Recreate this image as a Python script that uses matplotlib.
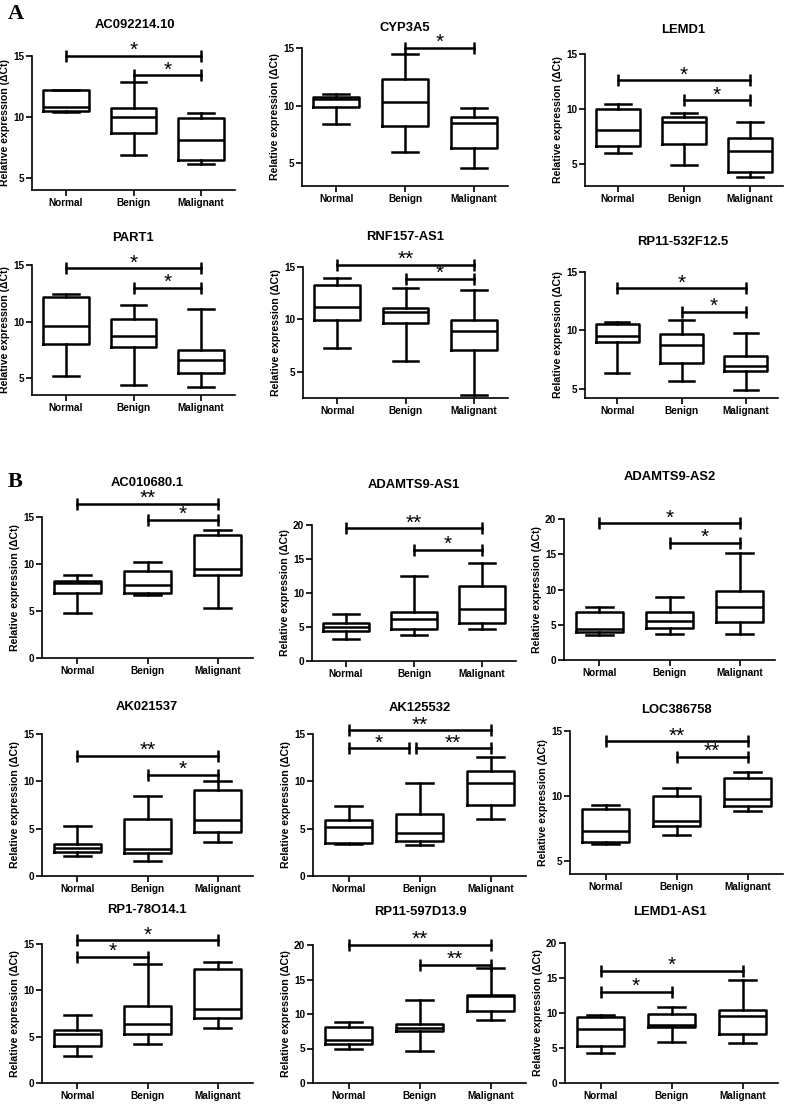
import matplotlib
matplotlib.use("Agg")
import matplotlib.pyplot as plt

plt.rcParams['font.family'] = ['Liberation Sans', 'DejaVu Sans']
plt.rcParams['font.weight'] = 'bold'
plt.rcParams['axes.linewidth'] = 1.2

groups = ["Normal", "Benign", "Malignant"]

# box stats per group: whisker low, q1, median, q3, whisker high
ac092214_10 = [[10.4, 10.5, 10.8, 12.2, 12.2], [6.85, 8.7, 10.0, 10.7, 12.9], [6.1, 6.45, 8.1, 9.9, 10.3]]
cyp3a5 = [[8.4, 9.83, 10.58, 10.78, 10.99], [6.0, 8.2, 10.3, 12.29, 14.46], [4.6, 6.29, 8.46, 8.96, 9.77]]
lemd1 = [[6.03, 6.64, 8.1, 9.97, 10.5], [4.88, 6.8, 8.85, 9.24, 9.6], [3.8, 4.3, 6.18, 7.33, 8.8]]
part1 = [[5.15, 8.03, 9.56, 12.15, 12.47], [4.35, 7.74, 8.68, 10.18, 11.44], [4.24, 5.44, 6.56, 7.5, 11.12]]
rnf157_as1 = [[7.26, 9.94, 11.2, 13.25, 13.99], [6.0, 9.62, 10.66, 11.1, 13.03], [2.78, 7.1, 8.9, 9.94, 12.84]]
rp11_532f12_5 = [[6.32, 9.0, 9.52, 10.57, 10.71], [5.67, 7.24, 8.78, 9.69, 10.91], [4.86, 6.5, 6.95, 7.8, 9.8]]
ac010680_1 = [[4.8, 6.9, 8.02, 8.2, 8.84], [6.7, 6.9, 7.78, 9.22, 10.18], [5.37, 8.84, 9.44, 13.06, 13.6]]
adamts9_as1 = [[3.18, 4.36, 5.0, 5.62, 6.85], [3.77, 4.75, 6.2, 7.2, 12.51], [4.64, 5.62, 7.68, 11.03, 14.48]]
adamts9_as2 = [[3.5, 3.97, 4.44, 6.8, 7.47], [3.69, 4.6, 5.6, 6.8, 9.0], [3.7, 5.36, 7.56, 9.8, 15.2]]
ak021537 = [[2.15, 2.5, 2.92, 3.35, 5.28], [1.62, 2.46, 2.85, 6.0, 8.45], [3.63, 4.6, 5.94, 9.1, 10.0]]
ak125532 = [[3.38, 3.5, 5.18, 5.9, 7.42], [3.27, 3.68, 4.49, 6.53, 9.84], [5.99, 7.47, 9.83, 11.06, 12.6]]
loc386758 = [[6.28, 6.49, 7.31, 9.0, 9.31], [7.0, 7.72, 8.08, 10.0, 10.59], [8.85, 9.23, 9.77, 11.41, 11.87]]
rp1_78o14_1 = [[2.9, 4.0, 5.3, 5.7, 7.3], [4.2, 5.3, 6.4, 8.3, 12.8], [5.9, 7.0, 8.0, 12.3, 13.1]]
rp11_597d13_9 = [[5.0, 5.7, 6.3, 8.1, 8.9], [4.6, 7.6, 7.9, 8.5, 12.0], [9.1, 10.5, 12.6, 12.8, 16.7]]
lemd1_as1 = [[4.3, 5.3, 7.7, 9.5, 9.7], [5.8, 8.0, 8.3, 9.8, 10.8], [5.7, 7.0, 9.6, 10.5, 14.7]]

# significance bars: from group, to group, height, label
sig_ac092214_10 = [(1, 3, 15.0, "*"), (2, 3, 13.4, "*")]
sig_cyp3a5 = [(2, 3, 15.0, "*")]
sig_lemd1 = [(1, 3, 12.6, "*"), (2, 3, 10.8, "*")]
sig_part1 = [(1, 3, 14.7, "*"), (2, 3, 13.0, "*")]
sig_rnf157_as1 = [(1, 3, 15.2, "**"), (2, 3, 13.9, "*")]
sig_rp11_532f12_5 = [(1, 3, 13.6, "*"), (2, 3, 11.6, "*")]
sig_ac010680_1 = [(1, 3, 16.4, "**"), (2, 3, 14.7, "*")]
sig_adamts9_as1 = [(1, 3, 19.5, "**"), (2, 3, 16.3, "*")]
sig_adamts9_as2 = [(1, 3, 19.4, "*"), (2, 3, 16.6, "*")]
sig_ak021537 = [(1, 3, 12.7, "**"), (2, 3, 10.7, "*")]
sig_ak125532 = [(1, 3, 15.4, "**"), (1, 1.85, 13.5, "*"), (1.95, 3, 13.5, "**")]
sig_loc386758 = [(1, 3, 14.2, "**"), (2, 3, 13.0, "**")]
sig_rp1_78o14_1 = [(1, 3, 15.4, "*"), (1, 2, 13.6, "*")]
sig_rp11_597d13_9 = [(1, 3, 20.0, "**"), (2, 3, 17.1, "**")]
sig_lemd1_as1 = [(1, 3, 16.0, "*"), (1, 2, 13.0, "*")]

W, H = 787, 1106
fig = plt.figure(figsize=(W / 100, H / 100), dpi=100)

# title, boxes, sigs, ylim, yticks, axes box in px (left, right, y of ymax, y of ymin), title pos px
panels = [
    ("AC092214.10", ac092214_10, sig_ac092214_10, (4, 15), [5, 10, 15], (32, 235, 56, 190), (135, 25)),
    ("CYP3A5", cyp3a5, sig_cyp3a5, (3, 15), [5, 10, 15], (302, 508, 48, 186), (405, 28)),
    ("LEMD1", lemd1, sig_lemd1, (3, 15), [5, 10, 15], (585, 783, 54, 186), (683, 30)),
    ("PART1", part1, sig_part1, (3.5, 15), [5, 10, 15], (32, 235, 265, 395), (133, 238)),
    ("RNF157-AS1", rnf157_as1, sig_rnf157_as1, (2.5, 15), [5, 10, 15], (303, 508, 267, 398), (405, 237)),
    ("RP11-532F12.5", rp11_532f12_5, sig_rp11_532f12_5, (4.2, 15), [5, 10, 15], (585, 778, 272, 398), (683, 242)),
    ("AC010680.1", ac010680_1, sig_ac010680_1, (0, 15), [0, 5, 10, 15], (42, 253, 517, 658), (147, 483)),
    ("ADAMTS9-AS1", adamts9_as1, sig_adamts9_as1, (0, 20), [0, 5, 10, 15, 20], (312, 516, 525, 661), (414, 485)),
    ("ADAMTS9-AS2", adamts9_as2, sig_adamts9_as2, (0, 20), [0, 5, 10, 15, 20], (564, 775, 519, 660), (670, 477)),
    ("AK021537", ak021537, sig_ak021537, (0, 15), [0, 5, 10, 15], (42, 253, 734, 876), (147, 707)),
    ("AK125532", ak125532, sig_ak125532, (0, 15), [0, 5, 10, 15], (313, 526, 734, 876), (420, 708)),
    ("LOC386758", loc386758, sig_loc386758, (4, 15), [5, 10, 15], (570, 783, 731, 874), (676, 710)),
    ("RP1-78O14.1", rp1_78o14_1, sig_rp1_78o14_1, (0, 15), [0, 5, 10, 15], (42, 253, 944, 1083), (147, 910)),
    ("RP11-597D13.9", rp11_597d13_9, sig_rp11_597d13_9, (0, 20), [0, 5, 10, 15, 20], (313, 526, 945, 1083), (420, 912)),
    ("LEMD1-AS1", lemd1_as1, sig_lemd1_as1, (0, 20), [0, 5, 10, 15, 20], (565, 778, 943, 1083), (670, 912)),
]

lw = 1.8
for title, boxes, sigs, ylim, yticks, (l, r, t, b), (tx, ty) in panels:
    ax = fig.add_axes([l / W, 1 - b / H, (r - l) / W, (b - t) / H])
    stats = [dict(whislo=v[0], q1=v[1], med=v[2], q3=v[3], whishi=v[4]) for v in boxes]
    line = dict(color='k', lw=lw)
    ax.bxp(stats, positions=[1, 2, 3], widths=0.67, capwidths=0.38, showfliers=False,
           boxprops=line, whiskerprops=line, capprops=line, medianprops=line)
    ax.set_xlim(0.5, 3.5)
    ax.set_ylim(*ylim)
    ax.set_yticks(yticks)
    ax.set_xticks([1, 2, 3])
    ax.set_xticklabels(groups, fontsize=7.2)
    for s in ['top', 'right']:
        ax.spines[s].set_visible(False)
    ax.tick_params(length=4, width=1.2, labelsize=7.2, pad=1.5)
    ax.set_ylabel("Relative expression (\u0394Ct)", fontsize=7.6, fontweight='bold', labelpad=2)
    for x1, x2, y, lab in sigs:
        ax.plot([x1, x2], [y, y], color='k', lw=lw, marker='|', markersize=8, mew=lw, clip_on=False)
        ax.annotate(lab, ((x1 + x2) / 2, y), xytext=(0, -3), textcoords='offset points',
                    ha='center', va='bottom', fontsize=15, fontweight='normal', annotation_clip=False)
    fig.text(tx / W, 1 - ty / H, title, ha='center', va='center', fontsize=9.4, fontweight='bold')

fig.text(8 / W, 1 - 14 / H, "A", ha='left', va='center', fontsize=16, fontweight='bold', family='Liberation Serif')
fig.text(8 / W, 1 - 482 / H, "B", ha='left', va='center', fontsize=16, fontweight='bold', family='Liberation Serif')

fig.savefig("out.png", dpi=100)
